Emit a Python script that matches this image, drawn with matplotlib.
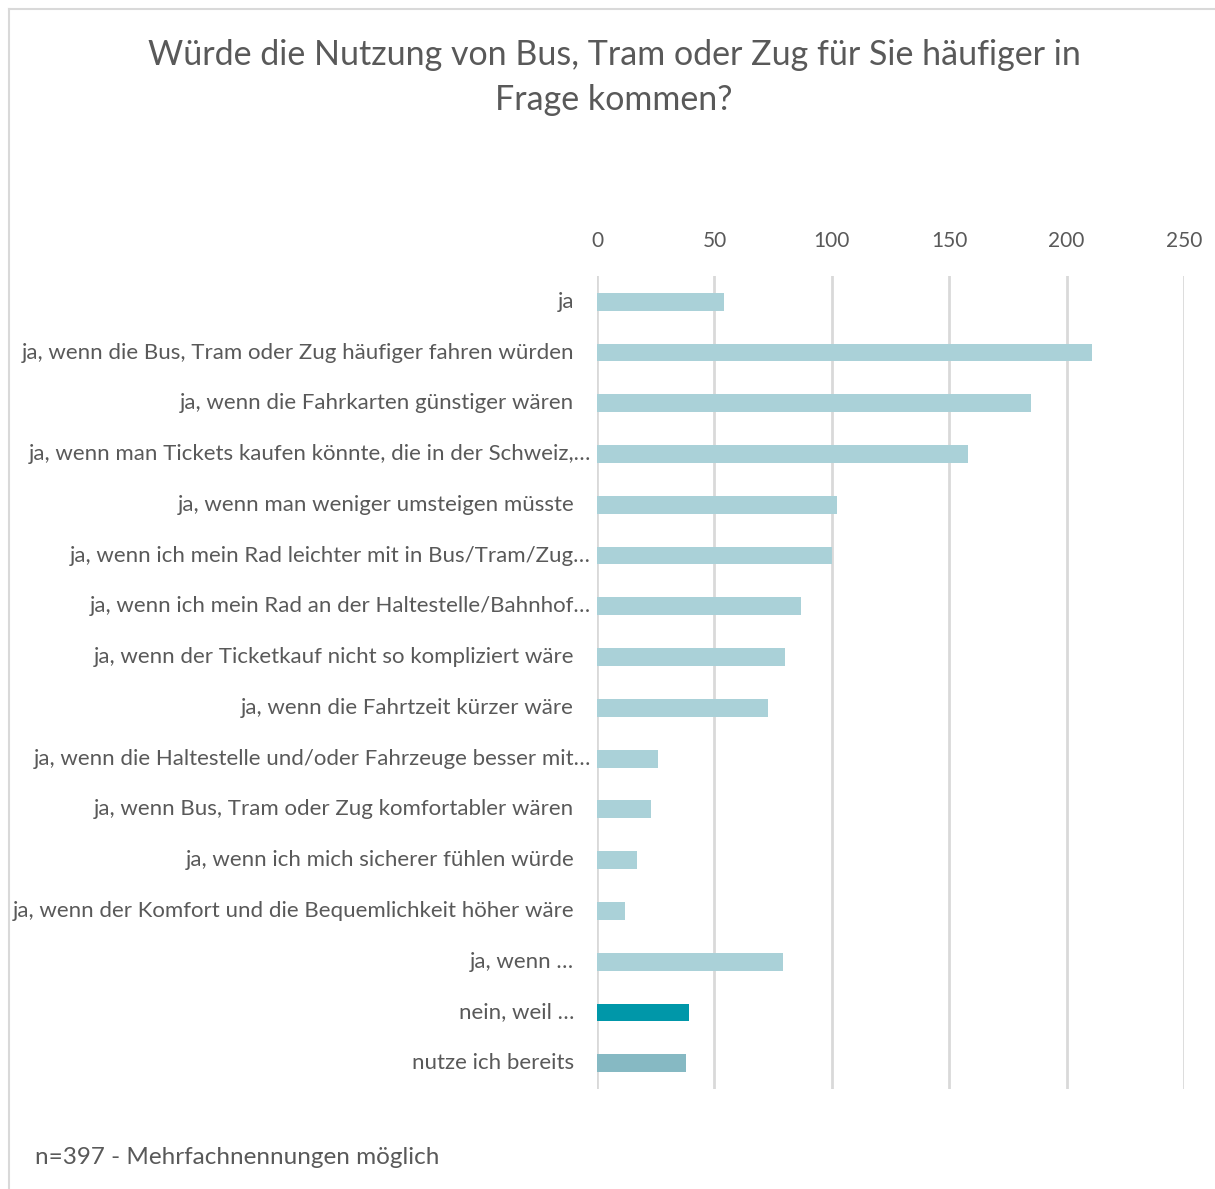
import matplotlib.pyplot as plt
from matplotlib.transforms import blended_transform_factory, offset_copy
from matplotlib.lines import Line2D

plt.rcParams['font.family'] = ['Lato', 'DejaVu Sans']

labels = [
    "ja",
    "ja, wenn die Bus, Tram oder Zug häufiger fahren würden",
    "ja, wenn die Fahrkarten günstiger wären",
    "ja, wenn man Tickets kaufen könnte, die in der Schweiz,…",
    "ja, wenn man weniger umsteigen müsste",
    "ja, wenn ich mein Rad leichter mit in Bus/Tram/Zug…",
    "ja, wenn ich mein Rad an der Haltestelle/Bahnhof…",
    "ja, wenn der Ticketkauf nicht so kompliziert wäre",
    "ja, wenn die Fahrtzeit kürzer wäre",
    "ja, wenn die Haltestelle und/oder Fahrzeuge besser mit…",
    "ja, wenn Bus, Tram oder Zug komfortabler wären",
    "ja, wenn ich mich sicherer fühlen würde",
    "ja, wenn der Komfort und die Bequemlichkeit höher wäre",
    "ja, wenn …",
    "nein, weil …",
    "nutze ich bereits",
]
values = [54, 211, 185, 158, 102, 100, 87, 80, 73, 26, 23, 17, 12, 79, 39, 38]
colors = ["#AAD1D8"] * 14 + ["#0097A9", "#86B9C3"]
truncated = [l.endswith("…") and not l.endswith(" …") for l in labels]

TXT = "#595959"
GRID = "#D9D9D9"

fig = plt.figure(figsize=(12.15, 11.89), dpi=100)
ax = fig.add_axes([0.4914, 0.0845, 0.4831, 0.6830])

ypos = list(range(len(labels)))
ax.barh(ypos, values, height=0.35, color=colors, zorder=3)
ax.set_ylim(len(labels) - 0.5, -0.5)
ax.set_xlim(0, 250)
ax.set_xticks([0, 50, 100, 150, 200, 250])
ax.xaxis.tick_top()
ax.tick_params(axis='x', length=0, pad=18, labelsize=15, labelcolor=TXT)
ax.set_yticks([])
ax.grid(axis='x', color=GRID, linewidth=2, zorder=0)
for s in ax.spines.values():
    s.set_visible(False)

trans = blended_transform_factory(ax.transAxes, ax.transData)
for y, lab, tr in zip(ypos, labels, truncated):
    off = -6 if tr else -23
    t = offset_copy(trans, fig=fig, x=off, y=0, units='dots')
    ax.text(0, y, lab, transform=t, ha='right', va='center',
            fontsize=16, color=TXT)

fig.text(614 / 1215, 0.967, "Würde die Nutzung von Bus, Tram oder Zug für Sie häufiger in\nFrage kommen?",
         ha='center', va='top', fontsize=24.5, color=TXT, linespacing=1.48)
fig.text(35 / 1215, 1 - 1157 / 1189, "n=397 - Mehrfachnennungen möglich",
         ha='left', va='center', fontsize=17.5, color=TXT)

# chart frame
fig.add_artist(Line2D([9 / 1215, 9 / 1215], [0, 1 - 9 / 1189], transform=fig.transFigure,
                      color=GRID, linewidth=1.5))
fig.add_artist(Line2D([9 / 1215, 1], [1 - 9 / 1189, 1 - 9 / 1189], transform=fig.transFigure,
                      color=GRID, linewidth=1.5))

fig.savefig("out.png", dpi=100, facecolor="white")
